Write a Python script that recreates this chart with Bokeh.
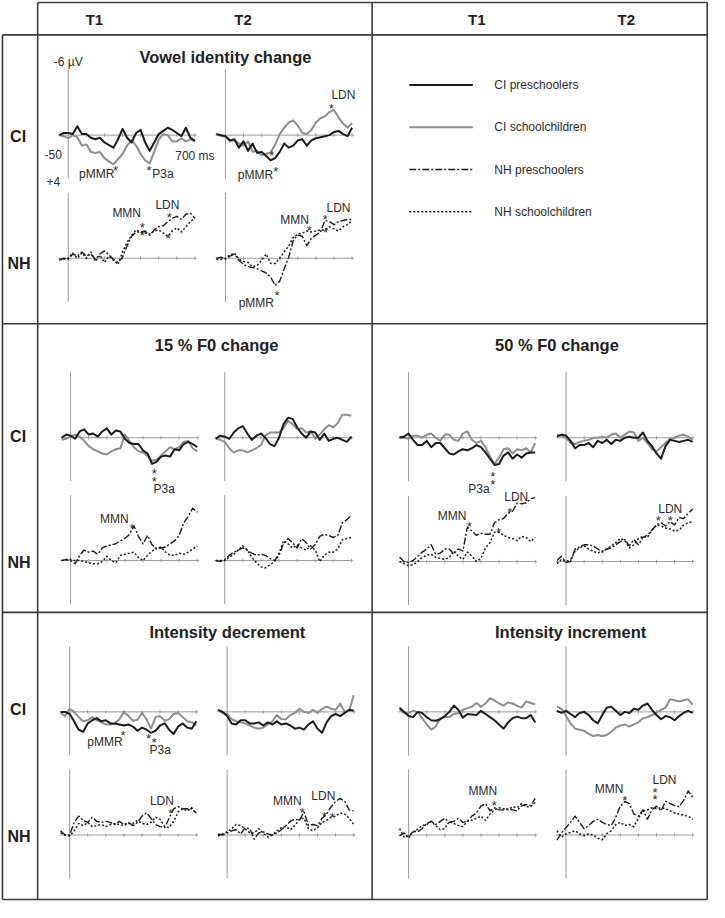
from bokeh.plotting import figure
from bokeh.models import Range1d
from bokeh.embed import file_html
from bokeh.resources import INLINE
from bokeh.core.properties import value

# ---------------- data (ms, µV; negative plotted up) ----------------
TIME_MS = list(range(-50, 701, 25))

# Vowel identity change
vow_ci_t1_pre = [0.0, -0.2, -0.2, -0.1, -0.85, -0.1, -0.1, 0.25, 0.4, 0.25, 0.7, 0.95, 1.2, 0.4, -0.6, 0.25, 0.7, -0.2, -0.5, 0.7, 1.5, 0.7, -0.1, -0.4, -0.7, -0.5, -0.2, 0.1, -0.7, 0.25, 0.55]
vow_ci_t1_sch = [0.0, 0.1, 0.3, 0.0, 0.2, 1.0, 0.9, 1.6, 1.7, 1.6, 2.2, 2.5, 2.8, 2.3, 1.8, 1.0, 0.5, 1.0, 1.8, 2.4, 2.7, 1.6, 0.4, -0.1, 0.0, 0.6, 0.6, 0.3, 0.6, 0.4, 0.6]
vow_ci_t2_pre = [-0.1, 0.0, 0.1, 0.5, 0.4, 1.2, 0.6, 1.5, 0.8, 1.7, 1.6, 2.0, 2.4, 2.2, 1.6, 0.8, 1.2, 1.0, 0.5, 0.4, 1.0, 0.5, 0.3, 0.2, 0.1, 0.0, -0.3, -0.4, -0.1, 0.1, -0.7]
vow_ci_t2_sch = [-0.1, 0.1, 0.1, 0.6, 0.5, 0.8, 1.0, 0.6, 1.6, 1.5, 1.9, 1.8, 1.65, 0.9, -0.1, -0.7, -1.2, -1.4, -0.9, -0.2, -0.1, -0.5, -1.2, -1.6, -1.8, -2.2, -2.4, -1.7, -1.1, -0.7, -1.15]
vow_nh_t1_pre = [0.2, 0.0, 0.1, -0.4, -0.2, -0.6, -0.2, -0.4, 0.1, -0.4, -0.7, -0.3, 0.1, 0.4, -0.1, -1.2, -2.1, -2.5, -2.5, -2.6, -2.2, -2.7, -3.0, -3.1, -3.5, -3.8, -4.0, -3.7, -4.2, -4.3, -3.8]
vow_nh_t1_sch = [0.1, 0.1, 0.0, -0.5, 0.0, -0.5, 0.0, -0.6, 0.3, -0.3, 0.4, -0.2, 0.2, 0.6, -0.6, -1.5, -2.2, -2.7, -2.5, -2.4, -2.3, -2.6, -2.7, -2.4, -2.1, -2.6, -2.9, -2.5, -3.0, -3.5, -3.8]
vow_nh_t2_pre = [0.0, -0.1, 0.1, -0.2, -0.4, 0.2, 0.6, 0.8, 0.9, 1.0, 1.2, 1.4, 1.8, 2.6, 2.2, 1.0, -0.1, -1.7, -2.2, -2.1, -1.2, -1.9, -2.2, -2.5, -3.6, -3.5, -3.2, -3.5, -3.6, -3.7, -3.7]
vow_nh_t2_sch = [0.1, 0.1, 0.0, -0.3, -0.5, 0.1, 0.3, 0.4, 0.8, 0.7, 0.2, -0.4, 0.5, 0.5, 0.0, -0.6, -1.2, -2.0, -2.3, -2.4, -2.6, -2.5, -2.6, -2.7, -2.7, -3.0, -2.8, -2.6, -3.0, -3.2, -3.6]

# 15 % F0 change
f15_ci_t1_pre = [0.0, -0.3, -0.2, 0.1, -0.6, -0.8, -0.3, -0.4, -0.1, -0.6, -0.9, -0.3, -0.7, -0.6, 0.1, 0.5, 0.6, 0.6, 1.2, 1.5, 2.5, 2.3, 1.8, 1.7, 1.8, 1.1, 1.2, 0.6, 0.4, 0.6, 0.9]
f15_ci_t1_sch = [0.2, 0.1, -0.1, -0.3, -0.1, 0.3, 0.8, 1.1, 1.3, 1.5, 1.6, 1.3, 1.1, 1.0, -0.3, 0.3, 0.9, 1.3, 1.4, 1.7, 2.2, 2.1, 1.7, 1.3, 0.9, 1.1, 0.9, 0.4, 0.3, 1.0, 1.3]
f15_ci_t2_pre = [0.1, -0.2, -0.1, 0.1, -0.5, -0.9, -1.1, -0.4, 0.2, -0.2, -0.4, 0.0, 0.6, 0.8, 0.0, -1.3, -1.9, -1.8, -1.0, -0.4, 0.0, -0.6, -0.5, 0.2, -0.4, 0.3, 0.1, 0.0, 0.2, 0.4, -0.1]
f15_ci_t2_sch = [0.1, 0.2, 0.4, 1.0, 1.4, 1.2, 1.2, 1.4, 1.2, 1.0, 0.7, -0.2, -0.5, -0.5, -0.5, -0.9, -1.6, -1.3, -0.8, -0.9, -0.5, -0.6, 0.1, -0.3, -0.8, -1.2, -1.0, -1.4, -2.2, -2.2, -2.1]
f15_nh_t1_pre = [0.0, -0.1, 0.0, 0.3, -0.5, -1.0, -0.8, -0.9, -0.6, -1.2, -1.4, -1.5, -1.6, -1.9, -2.1, -2.5, -3.3, -2.3, -1.6, -2.4, -1.5, -1.1, -1.2, -1.3, -1.6, -1.9, -2.4, -3.6, -4.2, -5.0, -4.6]
f15_nh_t1_sch = [0.0, -0.1, -0.1, 0.0, 0.0, 0.1, 0.2, 0.3, 0.3, 0.1, -0.4, 0.0, 0.2, -0.5, -0.6, -0.7, -0.8, -0.3, 0.0, -0.5, -0.9, -1.2, -1.3, -0.8, -0.5, -0.5, -0.7, -0.6, -0.8, -1.1, -1.4]
f15_nh_t2_pre = [0.0, 0.1, -0.1, -0.5, -0.8, -1.0, -1.2, -1.0, -0.7, -0.5, -0.6, -0.5, -0.2, 0.0, -0.5, -1.6, -2.1, -1.7, -1.2, -2.1, -1.7, -1.1, -1.5, -2.3, -2.5, -2.4, -2.2, -2.4, -3.6, -3.9, -4.3]
f15_nh_t2_sch = [0.0, 0.0, 0.0, -0.3, -0.6, -1.0, -1.4, -1.0, -0.3, 0.2, 0.6, 0.7, 0.4, 0.1, -0.7, -1.9, -1.6, -1.2, -1.5, -1.2, -1.0, -1.4, -1.0, 0.1, -0.5, -0.8, -0.8, -1.1, -2.0, -2.1, -2.2]

# 50 % F0 change
f50_ci_t1_pre = [0.0, -0.1, -0.4, 0.2, 0.7, 0.7, 0.3, 0.9, 0.5, 0.5, 1.0, 1.5, 1.6, 1.3, 1.1, 1.2, 1.0, 0.7, 0.9, 1.4, 2.0, 2.6, 2.5, 1.7, 1.4, 2.0, 1.6, 1.9, 1.5, 1.4, 1.4]
f50_ci_t1_sch = [-0.1, 0.0, 0.1, -0.2, -0.2, 0.0, -0.3, -0.4, 0.0, 0.3, -0.3, -0.3, 0.2, 0.3, -0.4, -0.6, 0.2, 0.5, 0.3, 0.9, 1.8, 2.5, 1.9, 1.1, 1.0, 1.5, 1.1, 1.2, 1.0, 1.4, 0.5]
f50_ci_t2_pre = [-0.1, -0.3, -0.2, 0.3, 1.0, 0.7, 0.7, 0.5, 0.9, 0.3, 0.5, 0.2, 0.6, 0.2, 0.3, 0.0, -0.1, 0.0, 0.0, -0.5, 0.3, 0.8, 1.5, 2.0, 0.8, 0.2, 0.3, 0.4, 0.3, 0.2, 0.4]
f50_ci_t2_sch = [-0.3, -0.2, 0.0, 0.5, 0.6, 0.4, 0.3, 0.2, 0.0, 0.0, -0.1, 0.0, -0.3, -0.4, 0.0, -0.3, -0.6, -0.5, 0.3, 0.0, 0.5, 1.1, 1.3, 0.9, 0.5, 0.1, 0.0, -0.2, -0.3, -0.1, 0.2]
f50_nh_t1_pre = [-0.4, 0.0, 0.1, -0.1, -0.5, -0.9, -1.2, -1.6, -0.7, -0.8, -1.2, -1.2, -0.7, -1.2, -1.0, -3.3, -2.9, -2.5, -2.7, -2.6, -2.6, -3.7, -4.0, -4.1, -4.6, -4.8, -5.6, -5.5, -5.6, -6.0, -6.1]
f50_nh_t1_sch = [0.0, 0.2, 0.4, 0.3, 0.0, -0.4, -0.6, -0.7, -0.4, -0.3, -0.2, -0.4, -1.0, -0.5, -0.2, -0.9, -0.5, 0.0, -0.3, -1.3, -1.8, -2.8, -2.8, -2.5, -2.3, -2.2, -2.0, -2.4, -2.3, -1.9, -2.3]
f50_nh_t2_pre = [-0.1, -0.5, 0.1, 0.0, -1.2, -1.4, -1.6, -1.6, -1.5, -1.2, -0.9, -1.2, -1.3, -1.6, -1.9, -2.1, -1.5, -2.1, -1.6, -2.3, -2.5, -3.0, -3.5, -3.7, -3.4, -3.8, -3.5, -4.2, -4.1, -4.6, -5.0]
f50_nh_t2_sch = [0.2, -0.2, 0.0, -0.2, -1.0, -1.3, -1.5, -1.2, -1.0, -0.8, -1.0, -1.2, -1.5, -1.8, -2.2, -2.0, -1.3, -1.6, -2.2, -2.4, -2.3, -3.0, -3.5, -3.4, -3.2, -3.1, -2.9, -3.0, -3.5, -3.7, -3.8]

# Intensity decrement
idec_ci_t1_pre = [0.0, 0.0, 0.2, 0.9, 1.7, 1.9, 1.1, 0.8, 0.6, 0.9, 0.8, 1.1, 1.1, 1.2, 1.3, 1.2, 1.4, 1.8, 1.5, 1.7, 2.0, 1.8, 1.3, 1.1, 1.7, 2.1, 1.4, 1.1, 1.5, 1.6, 0.9]
idec_ci_t1_sch = [0.1, 0.4, -0.3, 0.0, 0.5, 0.9, 0.8, 0.5, 0.8, 1.0, 1.2, 1.2, 1.1, 0.7, 0.0, 0.4, 0.85, 0.75, 0.1, 0.7, 1.6, 0.5, 0.4, 0.85, 0.7, 0.2, 0.1, 0.5, 0.9, 1.0, 1.3]
idec_ci_t2_pre = [-0.2, 0.0, 0.4, 1.1, 1.2, 0.8, 0.8, 1.1, 1.1, 1.0, 1.3, 1.0, 1.2, 0.9, 1.2, 1.1, 1.3, 1.6, 1.5, 1.7, 1.2, 0.9, 1.6, 2.0, 1.0, 0.4, 0.2, 0.4, 0.1, -0.2, -0.1]
idec_ci_t2_sch = [-0.2, 0.1, 0.2, 0.7, 0.9, 1.0, 1.1, 1.3, 1.5, 1.6, 1.5, 1.2, 0.9, 0.3, 0.7, 0.7, 0.3, 0.1, -0.3, 0.0, 0.1, -0.2, 0.1, -0.3, -0.5, -0.3, -0.2, -0.8, 0.0, -0.1, -1.6]
idec_nh_t1_pre = [-0.4, 0.0, 0.0, -1.2, -1.8, -1.4, -1.2, -1.7, -1.3, -1.2, -1.3, -1.2, -1.0, -1.3, -1.0, -1.2, -0.9, -1.2, -1.8, -2.1, -1.6, -1.0, -0.8, -0.7, -1.6, -2.5, -2.7, -2.5, -2.5, -2.5, -2.1]
idec_nh_t1_sch = [-0.2, 0.0, 0.1, -0.4, -1.1, -0.9, -1.2, -0.8, -0.9, -1.0, -0.8, -1.0, -1.1, -1.0, -0.9, -1.1, -1.1, -1.4, -1.1, -1.0, -1.2, -1.7, -1.5, -0.8, -0.7, -1.3, -2.2, -2.5, -2.3, -2.6, -2.0]
idec_nh_t2_pre = [-0.1, 0.0, -0.2, -0.4, -0.5, -0.1, -0.7, -0.6, 0.4, -0.2, -0.3, -0.1, 0.0, -0.2, -0.5, -0.9, -1.3, -1.5, -1.4, -2.2, -0.9, -1.0, -0.9, -1.6, -2.0, -2.7, -3.2, -3.5, -3.2, -2.4, -2.3]
idec_nh_t2_sch = [0.1, -0.1, -0.3, -0.6, -1.0, -0.9, -0.6, -0.2, -0.2, -0.6, -0.2, 0.2, 0.0, -0.4, -0.7, -0.8, -0.5, -0.9, -1.5, -1.6, -0.6, -0.4, -0.7, -1.2, -1.4, -1.7, -1.8, -2.1, -2.0, -1.6, -1.0]

# Intensity increment
iinc_ci_t1_pre = [-0.4, 0.0, 0.4, 0.5, 0.0, 0.1, 0.5, 0.8, 0.85, 0.7, 0.4, 0.0, -0.6, -0.2, 0.55, 0.2, 0.25, 0.3, -0.1, 0.2, 0.5, 0.8, 1.2, 1.6, 1.0, 0.6, 0.45, 0.6, 0.6, 0.3, 1.0]
iinc_ci_t1_sch = [-0.2, 0.1, 0.1, -0.1, 0.0, 0.6, 1.2, 1.7, 1.4, 0.6, 0.5, 0.5, 0.2, 0.1, -0.2, -0.35, -0.5, -0.85, -0.5, -0.8, -1.3, -1.1, -0.8, -0.6, -0.9, -0.8, -0.6, -0.4, -1.0, -0.85, -0.7]
iinc_ci_t2_pre = [-0.1, 0.1, -0.1, 0.2, 0.5, 0.1, 0.0, 0.3, 0.8, 1.1, 0.3, -0.4, -0.5, -0.1, 0.3, 0.0, 0.1, -0.3, -0.2, -0.6, -0.8, -0.2, 0.3, 0.7, 0.4, 0.5, 0.8, 0.4, 0.1, -0.1, 0.1]
iinc_ci_t2_sch = [-0.5, -0.3, 0.4, 1.1, 1.6, 1.7, 1.8, 2.1, 2.3, 2.2, 2.3, 2.2, 1.9, 1.5, 1.3, 1.2, 1.4, 1.2, 1.0, 0.6, 0.5, 0.3, 0.1, -0.2, -0.4, -1.2, -1.1, -1.0, -1.1, -1.2, -0.7]
iinc_nh_t1_pre = [0.1, -0.2, 0.3, -0.4, -0.3, -0.6, -1.1, -1.3, -1.0, -1.3, -1.6, -1.2, -1.3, -1.6, -1.2, -1.3, -1.8, -2.1, -2.75, -3.0, -2.3, -2.6, -2.4, -2.4, -2.5, -2.4, -2.3, -2.8, -2.9, -2.8, -3.5]
iinc_nh_t1_sch = [-0.6, 0.2, 0.1, -0.25, -0.55, -0.9, -1.0, -1.3, -0.9, -0.5, -0.6, -1.3, -1.1, -0.9, -0.8, -1.3, -1.4, -1.6, -1.8, -1.4, -2.0, -2.4, -2.6, -2.5, -2.4, -2.7, -2.6, -3.0, -2.7, -2.7, -3.1]
iinc_nh_t2_pre = [0.5, -0.2, -0.7, -1.2, -1.8, -1.2, -0.6, -0.9, -1.3, -1.5, -1.2, -1.0, -0.9, -1.7, -2.75, -3.2, -3.0, -2.0, -1.8, -2.4, -1.5, -2.4, -2.75, -2.3, -3.2, -3.0, -2.8, -2.7, -3.3, -4.2, -3.6]
iinc_nh_t2_sch = [-0.4, 0.2, -0.1, -0.25, -0.4, -0.1, 0.05, -0.1, 0.0, 0.3, 0.45, -0.1, -0.4, -1.0, -1.2, -0.9, -1.0, -0.8, -1.6, -2.3, -2.4, -2.6, -2.5, -2.6, -2.5, -2.3, -2.1, -2.0, -1.9, -1.8, -1.5]

PANEL_KEYS = ["vow", "f15", "f50", "idec", "iinc"]
PANEL_TITLES = ["Vowel identity change", "15 % F0 change", "50 % F0 change",
                "Intensity decrement", "Intensity increment"]
ROW_LABELS = ["CI", "NH"]
COL_LABELS = ["T1", "T2", "T1", "T2"]
GROUP_LABELS = ["CI preschoolers", "CI schoolchildren", "NH preschoolers", "NH schoolchildren"]

SERIES = {
    "vow": [[(vow_ci_t1_sch, vow_ci_t1_pre), (vow_ci_t2_sch, vow_ci_t2_pre)],
            [(vow_nh_t1_sch, vow_nh_t1_pre), (vow_nh_t2_sch, vow_nh_t2_pre)]],
    "f15": [[(f15_ci_t1_sch, f15_ci_t1_pre), (f15_ci_t2_sch, f15_ci_t2_pre)],
            [(f15_nh_t1_sch, f15_nh_t1_pre), (f15_nh_t2_sch, f15_nh_t2_pre)]],
    "f50": [[(f50_ci_t1_sch, f50_ci_t1_pre), (f50_ci_t2_sch, f50_ci_t2_pre)],
            [(f50_nh_t1_sch, f50_nh_t1_pre), (f50_nh_t2_sch, f50_nh_t2_pre)]],
    "idec": [[(idec_ci_t1_sch, idec_ci_t1_pre), (idec_ci_t2_sch, idec_ci_t2_pre)],
             [(idec_nh_t1_sch, idec_nh_t1_pre), (idec_nh_t2_sch, idec_nh_t2_pre)]],
    "iinc": [[(iinc_ci_t1_sch, iinc_ci_t1_pre), (iinc_ci_t2_sch, iinc_ci_t2_pre)],
             [(iinc_nh_t1_sch, iinc_nh_t1_pre), (iinc_nh_t2_sch, iinc_nh_t2_pre)]],
}

# component annotations: (panel, row, col, ms, µV, text)
ANNOTATIONS = [
    ("vow", 0, 0, 157, 3.7, "pMMR"), ("vow", 0, 0, 261, 3.0, "*"), ("vow", 0, 0, 447, 3.0, "*"), ("vow", 0, 0, 523, 3.75, "P3a"),
    ("vow", 0, 1, 166, 3.85, "pMMR"), ("vow", 0, 1, 279, 3.1, "*"), ("vow", 0, 1, 256, 1.65, "*"), ("vow", 0, 1, 652, -3.8, "LDN"), ("vow", 0, 1, 585, -2.9, "*"),
    ("vow", 1, 0, 323, -4.3, "MMN"), ("vow", 1, 0, 409, -3.3, "*"), ("vow", 1, 0, 409, -2.5, "*"), ("vow", 1, 0, 548, -5.1, "LDN"), ("vow", 1, 0, 559, -4.2, "*"), ("vow", 1, 0, 553, -2.2, "*"),
    ("vow", 1, 1, 382, -3.6, "MMN"), ("vow", 1, 1, 463, -3.0, "*"), ("vow", 1, 1, 625, -4.75, "LDN"), ("vow", 1, 1, 550, -4.0, "*"), ("vow", 1, 1, 553, -2.8, "*"), ("vow", 1, 1, 171, 4.3, "pMMR"), ("vow", 1, 1, 285, 3.2, "*"),
    ("f15", 0, 0, 463, 3.1, "*"), ("f15", 0, 0, 463, 3.8, "*"), ("f15", 0, 0, 517, 4.9, "P3a"),
    ("f15", 1, 0, 241, -3.95, "MMN"), ("f15", 1, 0, 339, -3.4, "*"),
    ("f50", 0, 0, 465, 3.4, "*"), ("f50", 0, 0, 465, 4.1, "*"), ("f50", 0, 0, 389, 4.9, "P3a"),
    ("f50", 1, 0, 241, -4.3, "MMN"), ("f50", 1, 0, 335, -3.7, "*"), ("f50", 1, 0, 595, -6.2, "LDN"), ("f50", 1, 0, 560, -5.0, "*"), ("f50", 1, 0, 497, -3.1, "*"),
    ("f50", 1, 1, 576, -5.0, "LDN"), ("f50", 1, 1, 510, -4.2, "*"), ("f50", 1, 1, 576, -4.2, "*"),
    ("idec", 0, 0, 195, 2.9, "pMMR"), ("idec", 0, 0, 295, 1.9, "*"), ("idec", 0, 0, 436, 2.2, "*"), ("idec", 0, 0, 467, 2.6, "*"), ("idec", 0, 0, 501, 3.6, "P3a"),
    ("idec", 1, 0, 510, -3.2, "LDN"), ("idec", 1, 0, 559, -2.4, "*"),
    ("idec", 1, 1, 333, -3.2, "MMN"), ("idec", 1, 1, 416, -2.5, "*"), ("idec", 1, 1, 532, -3.7, "LDN"), ("idec", 1, 1, 537, -2.1, "*"), ("idec", 1, 1, 582, -2.0, "*"),
    ("iinc", 1, 0, 411, -4.2, "MMN"), ("iinc", 1, 0, 474, -3.1, "*"),
    ("iinc", 1, 1, 238, -4.4, "MMN"), ("iinc", 1, 1, 324, -3.6, "*"), ("iinc", 1, 1, 544, -5.2, "LDN"), ("iinc", 1, 1, 492, -4.4, "*"), ("iinc", 1, 1, 492, -3.7, "*"),
]

# scale labels on the first sub-plot: (ms, µV, text)
SCALE_LABELS = [(0, -7.0, "-6 µV"), (-83, 1.85, "-50"), (-83, 4.4, "+4"), (700, 2.0, "700 ms")]
X_TICKS_MS = [0, 100, 200, 300, 400, 500, 600, 700]
Y_AXIS_UV = (-6.25, 4.15)
X_AXIS_MS = (-55, 710)

# ---------------- layout (page units) ----------------
W, H = 725, 918
PX_MS = 0.185
PX_UV = 10.67
# per panel: x of the 0-ms axis for T1/T2, y of the 0-µV line for CI/NH rows
GEOM = {
    "vow": ((69.3, 230.0), (137.0, 262.3)),
    "f15": ((71.7, 229.3), (445.0, 570.0)),
    "f50": ((417.3, 578.3), (445.0, 571.0)),
    "idec": ((70.7, 231.7), (724.0, 849.3)),
    "iinc": ((417.3, 578.3), (724.0, 849.3)),
}
TITLE_POS = [(230, 57), (221, 351), (569, 351), (232, 643), (583, 643)]
HEADER_POS = [(96, 19), (248, 19), (487, 19), (640, 19)]
ROW_LABEL_POS = [(18, 138), (19, 268), (18, 444), (19, 572), (18, 722), (19, 851)]
LEGEND_Y = [86, 129, 172, 215]
LEGEND_X = (418, 483, 505)

FONT = value("Liberation Sans")
TXT = "#2b2b2b"

p = figure(width=709, height=902, x_range=Range1d(0, W), y_range=Range1d(H, 0),
           output_backend="svg", toolbar_location=None, min_border=0,
           x_axis_type=None, y_axis_type=None)
p.grid.visible = False
p.outline_line_color = None
p.background_fill_color = "white"
p.border_fill_color = "white"

def tx(key, col, t):
    return GEOM[key][0][col] + PX_MS * t

def ty(key, row, v):
    return GEOM[key][1][row] + PX_UV * v

STY_CI = [dict(line_color="#8e8e8e", line_width=2.0), dict(line_color="#1c1c1c", line_width=2.0)]
STY_NH = [dict(line_color="#1c1c1c", line_width=1.5, line_dash="2 2"),
          dict(line_color="#1c1c1c", line_width=1.4, line_dash="7 2 2 2")]

# ---------------- table frame ----------------
FRAME_COLOR = "#3a3a3a"
hx, hy = [], []
for y in (2, 35, 329, 622.7, 915):
    x_start = 38 if y == 2 else 2
    hx.append([x_start, 722.7]); hy.append([y, y])
vx, vy = [], []
for x, y_start in ((2, 35), (38, 2), (380, 2), (722.7, 2)):
    vx.append([x, x]); vy.append([y_start, 915])
p.multi_line(hx + vx, hy + vy, line_color=FRAME_COLOR, line_width=1.6)

# ---------------- sub-plots ----------------
ax_xs, ax_ys = [], []
for key in PANEL_KEYS:
    for row in range(2):
        for col in range(2):
            x0 = tx(key, col, 0)
            ax_xs.append([x0, x0]); ax_ys.append([ty(key, row, Y_AXIS_UV[0]), ty(key, row, Y_AXIS_UV[1])])
            ax_xs.append([tx(key, col, X_AXIS_MS[0]), tx(key, col, X_AXIS_MS[1])])
            ax_ys.append([ty(key, row, 0), ty(key, row, 0)])
            for tk in X_TICKS_MS[1:]:
                ax_xs.append([tx(key, col, tk), tx(key, col, tk)])
                ax_ys.append([ty(key, row, 0) - 1.8, ty(key, row, 0) + 1.8])
p.multi_line(ax_xs, ax_ys, line_color="#9a9a9a", line_width=1.0)

for key in PANEL_KEYS:
    for row in range(2):
        for col in range(2):
            sch, pre = SERIES[key][row][col]
            styles = STY_CI if row == 0 else STY_NH
            for vals, st in ((sch, styles[0]), (pre, styles[1])):
                p.line([tx(key, col, t) for t in TIME_MS],
                       [ty(key, row, v) for v in vals], line_join="round", **st)

# annotations
ann_x, ann_y, ann_t = [], [], []
star_x, star_y = [], []
for key, row, col, t, v, s in ANNOTATIONS:
    if s == "*":
        star_x.append(tx(key, col, t)); star_y.append(ty(key, row, v) + 3.5)
    else:
        ann_x.append(tx(key, col, t)); ann_y.append(ty(key, row, v)); ann_t.append(s)
p.text(ann_x, ann_y, text=ann_t, text_font=FONT, text_font_size="12px", text_color=TXT,
       text_align="center", text_baseline="middle")
p.text(star_x, star_y, text=["*"] * len(star_x), text_font=FONT, text_font_size="13px",
       text_color=TXT, text_align="center", text_baseline="middle")

p.text([tx("vow", 0, t) for t, v, s in SCALE_LABELS], [ty("vow", 0, v) for t, v, s in SCALE_LABELS],
       text=[s for t, v, s in SCALE_LABELS], text_font=FONT, text_font_size="12px",
       text_color=TXT, text_align="center", text_baseline="middle")

# titles / headers / row labels
p.text([x for x, y in TITLE_POS], [y for x, y in TITLE_POS], text=PANEL_TITLES,
       text_font=FONT, text_font_size="16.5px", text_font_style="bold", text_color="#222222",
       text_align="center", text_baseline="middle")
p.text([x for x, y in HEADER_POS], [y for x, y in HEADER_POS], text=COL_LABELS,
       text_font=FONT, text_font_size="15px", text_font_style="bold", text_color="#222222",
       text_align="center", text_baseline="middle")
p.text([x for x, y in ROW_LABEL_POS], [y for x, y in ROW_LABEL_POS], text=ROW_LABELS * 3,
       text_font=FONT, text_font_size="16px", text_font_style="bold", text_color="#222222",
       text_align="center", text_baseline="middle")

# legend panel
leg_styles = [STY_CI[1], STY_CI[0], STY_NH[1], STY_NH[0]]
for yy, st in zip(LEGEND_Y, leg_styles):
    p.line([LEGEND_X[0], LEGEND_X[1]], [yy, yy], **st)
p.text([LEGEND_X[2]] * 4, LEGEND_Y, text=GROUP_LABELS, text_font=FONT, text_font_size="12px",
       text_color=TXT, text_align="left", text_baseline="middle")

open("out.html", "w").write(file_html(p, INLINE))
